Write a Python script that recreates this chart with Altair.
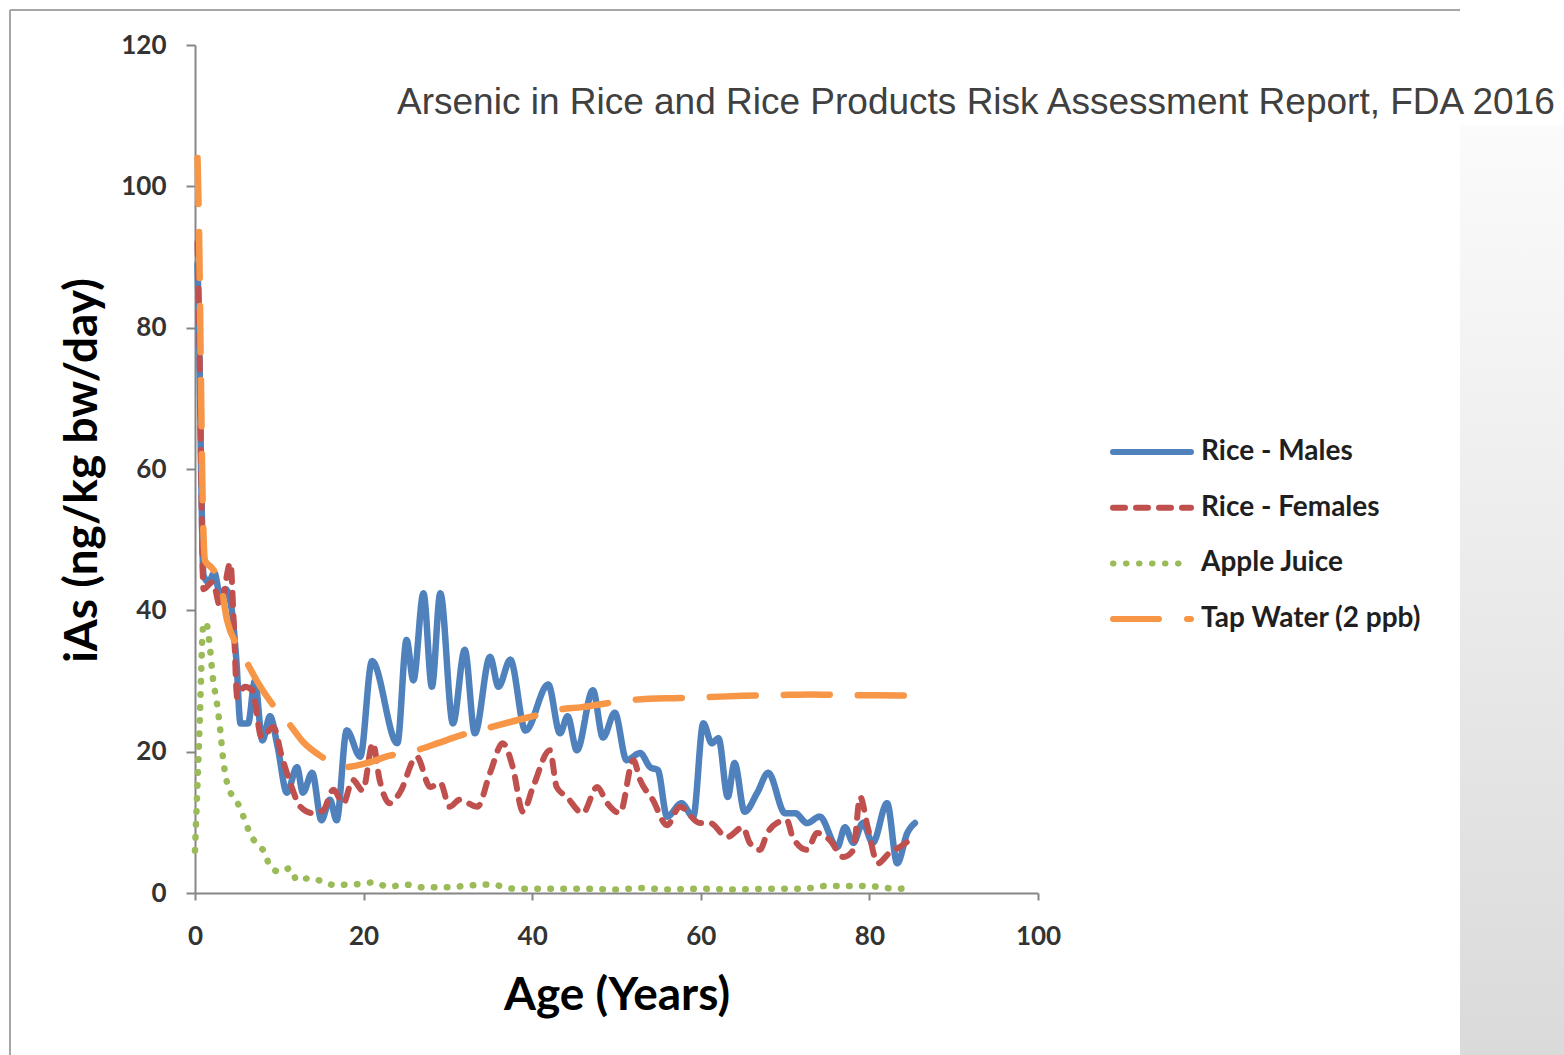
import altair as alt
import pandas as pd

# Estimated daily inorganic arsenic intake by age (ng/kg bw/day)
male_age = [0.3, 0.5, 0.75, 1.0, 1.6, 2.3, 3.0, 3.6, 4.3, 4.9, 5.4, 6.3, 7.1, 8.0, 8.9, 9.8,
            10.9, 12.1, 12.8, 13.9, 15.0, 16.0, 16.8, 18.0, 19.6, 21.0, 24.0, 25.1, 25.9,
            27.1, 28.1, 29.1, 30.6, 32.0, 33.2, 35.0, 36.0, 37.4, 39.2, 41.9, 43.3, 44.2,
            45.3, 47.2, 48.4, 49.8, 51.2, 52.8, 54.0, 54.9, 56.0, 57.7, 59.1, 60.3, 61.3,
            62.1, 63.2, 64.0, 65.2, 66.7, 68.0, 70.0, 71.2, 72.6, 74.1, 76.2, 77.1, 78.1,
            79.2, 80.4, 82.1, 83.3, 84.5, 85.4]
male_ias = [89, 78, 58, 45, 44, 45.3, 42, 43, 40.5, 33, 24, 24, 30, 21.6, 25, 20.7,
            14.2, 17.8, 14.2, 17, 10.3, 13.2, 10.3, 23, 19.3, 32.8, 21.2, 35.8, 30.1,
            42.4, 29.2, 42.4, 24, 34.4, 22.6, 33.4, 29.2, 33, 23, 29.5, 22.6, 25,
            20.2, 28.7, 22, 25.5, 18.8, 19.8, 17.8, 17.4, 10.8, 12.7, 10.8, 24, 21.2,
            21.9, 13.6, 18.4, 11.5, 14.2, 17, 11.3, 11.3, 9.9, 10.8, 6.5, 9.3, 7.1,
            9.9, 7.1, 12.7, 4.2, 8.5, 9.9]

female_age = [0.3, 0.5, 0.7, 1.0, 2.1, 3.0, 4.2, 4.6, 5.0, 5.9, 6.8, 7.9, 9.3, 10.3, 11.3,
              12.5, 14.0, 15.2, 16.4, 17.6, 18.7, 19.9, 21.1, 21.9, 23.1, 24.3, 26.3, 27.9,
              29.1, 30.2, 31.4, 33.5, 35.0, 36.5, 37.7, 38.9, 40.1, 42.1, 42.9, 44.1, 46.0,
              47.7, 48.9, 50.4, 52.0, 52.8, 54.3, 56.0, 57.5, 59.9, 61.1, 63.1, 65.0, 65.8,
              67.0, 67.9, 69.0, 70.2, 70.9, 72.6, 73.8, 75.3, 76.9, 78.1, 78.9, 79.8, 81.0,
              82.4, 83.6, 85.2]
female_ias = [92, 80, 62, 43, 44, 40.5, 46.7, 38.2, 27.7, 29.2, 28.7, 22, 23.5, 19.3, 15.6,
              12.2, 11.3, 11.7, 14.6, 12.7, 16, 14.5, 21.2, 16, 12.7, 14.2, 19.3, 15,
              15.6, 12.2, 13.2, 12.2, 17, 21.2, 17.8, 11.5, 15, 20.2, 15, 13.6, 11.3,
              15, 12.7, 11.3, 18.8, 16, 13.2, 9.6, 12.2, 9.9, 9.9, 7.9, 9.3, 7.1,
              6.1, 8.5, 9.9, 10.3, 7.9, 6.1, 8.5, 7.5, 5.1, 6.1, 13.6, 9.3, 4.2,
              5.7, 6.5, 7.9]

apple_age = [0.0, 0.5, 1.0, 1.3, 1.8, 2.1, 2.6, 3.0, 3.3, 3.8, 4.5, 5.3, 5.9, 6.5, 7.4, 8.3,
             8.9, 10.1, 11.3, 12.1, 13.6, 15.2, 16.6, 18, 20, 21, 23, 25, 27, 30, 32, 35,
             38, 42, 46, 50, 53, 56, 60, 64, 68, 72, 75, 78, 81, 83, 85]
apple_ias = [6, 22, 38, 38.3, 34.4, 30.6, 26.9, 23, 19.3, 15.6, 13.6, 12.2, 10.3, 8.5, 6.8, 5.7,
             3.7, 3, 3.5, 1.8, 2.1, 1.6, 1.1, 1.2, 1.3, 1.5, 0.9, 1.2, 0.8, 0.8, 1.0, 1.2,
             0.6, 0.6, 0.6, 0.5, 0.7, 0.5, 0.6, 0.5, 0.6, 0.6, 1.0, 1.0, 0.9, 0.6, 0.7]

tap_age = [0.3, 0.5, 0.7, 0.9, 1.2, 2.0, 3.0, 3.8, 5.0, 6.2, 7.5, 9.0, 11.0, 12.8, 15.0,
           17.6, 20.4, 23.0, 26.3, 28.8, 31.5, 34.6, 37.4, 40.0, 42.9, 45.9, 51.6, 57.5,
           60.3, 65, 69, 73, 77.7, 81, 85.2]
tap_ias = [104, 92, 73, 56, 47, 46, 44, 38.6, 35, 32.5, 29.7, 27, 24.2, 21.4, 19.3,
           17.8, 18.4, 19.4, 20.2, 21.2, 22.3, 23.3, 24.2, 25, 25.9, 26.3, 27.3, 27.6,
           27.7, 27.9, 28, 28.1, 28, 28, 27.9]

series_names = ["Rice - Males", "Rice - Females", "Apple Juice", "Tap Water (2 ppb)"]
series_ages = [male_age, female_age, apple_age, tap_age]
series_values = [male_ias, female_ias, apple_ias, tap_ias]
series_colors = ["#4F81BD", "#C0504D", "#9BBB59", "#F79646"]
series_dashes = [[1, 0], [12, 11], [0.5, 12.5], [46, 28]]
series_widths = [6.5, 6, 6.5, 6.5]

x_ticks = [0, 20, 40, 60, 80, 100]
y_ticks = [0, 20, 40, 60, 80, 100, 120]

title_text = "Arsenic in Rice and Rice Products Risk Assessment Report, FDA 2016"

x_enc = alt.X("age:Q", scale=alt.Scale(domain=[0, 100], nice=False),
              axis=alt.Axis(values=x_ticks, title="Age (Years)", grid=False,
                            tickSize=7, labelPadding=23, labelFlush=False,
                            titleY=102, titleBaseline="middle"))
y_enc = alt.Y("ias:Q", scale=alt.Scale(domain=[0, 120], nice=False),
              axis=alt.Axis(values=y_ticks, title="iAs (ng/kg bw/day)", grid=False,
                            tickSize=9, labelPadding=20, labelFlush=False,
                            titleX=-113, titleY=425, titleAngle=270,
                            titleBaseline="middle", titleAlign="center"))

one = pd.DataFrame({"k": [0]})

# slide background panel on the right and frame lines
panel = alt.Chart(one).mark_rect(
    fill=alt.Gradient(gradient="linear",
                      stops=[alt.GradientStop(color="#fbfbfb", offset=0),
                             alt.GradientStop(color="#dadada", offset=1)],
                      x1=0, x2=0, y1=0, y2=1),
    clip=False,
).encode(x=alt.value(1265), x2=alt.value(1369), y=alt.value(80), y2=alt.value(1010))

top_line = alt.Chart(one).mark_rule(color="#a6a6a6", strokeWidth=2, clip=False).encode(
    x=alt.value(-185), x2=alt.value(1265), y=alt.value(-35))
left_line = alt.Chart(one).mark_rule(color="#a6a6a6", strokeWidth=2, clip=False).encode(
    x=alt.value(-185), y=alt.value(-35), y2=alt.value(1010))

layers = [panel, top_line, left_line]

# one line layer per series, drawn in series order
for name, ages, vals, col, dash, w in zip(series_names, series_ages, series_values,
                                          series_colors, series_dashes, series_widths):
    sdf = pd.DataFrame({"age": ages, "ias": vals})
    layers.append(
        alt.Chart(sdf).mark_line(interpolate="monotone", strokeWidth=w, color=col,
                                 strokeDash=dash, strokeCap="round", strokeJoin="round")
        .encode(x=x_enc, y=y_enc)
    )

# legend: sample stroke plus label for each series
for i, (name, col, dash, w) in enumerate(zip(series_names, series_colors,
                                              series_dashes, series_widths)):
    ly = 407 + i * 55.7
    layers.append(
        alt.Chart(one).mark_rule(color=col, strokeDash=dash, strokeWidth=min(w, 6),
                                 strokeCap="round", clip=False)
        .encode(x=alt.value(918), x2=alt.value(996), y=alt.value(ly))
    )
    layers.append(
        alt.Chart(one).mark_text(text=name, align="left", baseline="middle",
                                 font="Lato", fontSize=28, fontWeight="bold",
                                 color="#1f1f1f", clip=False)
        .encode(x=alt.value(1006), y=alt.value(ly))
    )

title = alt.Chart(one).mark_text(
    text=title_text, align="left", baseline="middle", font="Liberation Sans",
    fontSize=37, color="#404040", clip=False,
).encode(x=alt.value(202), y=alt.value(58))
layers.append(title)

chart = alt.layer(*layers).properties(
    width=843, height=848,
    autosize=alt.AutoSizeParams(type="none"),
    padding={"left": 195, "top": 45, "right": 526, "bottom": 162},
).configure(background="white").configure_view(stroke="transparent").configure_axis(
    domainColor="#868686", domainWidth=2, tickColor="#868686", tickWidth=2,
    labelFont="Lato", labelFontSize=26, labelFontWeight="bold", labelColor="#333333",
    titleFont="Lato", titleFontSize=46, titleFontWeight="bold", titleColor="#000000",
)

chart.save("out.html", embed_options={"renderer": "svg", "actions": False})
